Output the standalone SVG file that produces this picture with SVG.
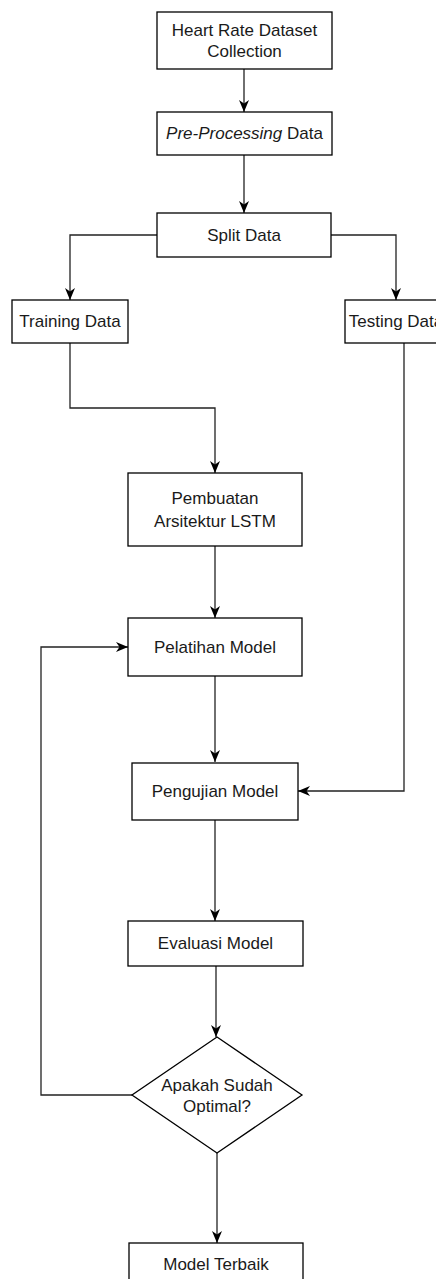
<svg xmlns="http://www.w3.org/2000/svg" width="436" height="1279" viewBox="0 0 436 1279">
<defs>
<marker id="arr" viewBox="0 0 12 10" refX="12" refY="5" markerWidth="12" markerHeight="10" markerUnits="userSpaceOnUse" orient="auto">
<path d="M0,0 L12,5 L0,10 L3.5,5 z" fill="#000"/>
</marker>
<style>
.box{fill:#fff;stroke:#000;stroke-width:1.3}
.t{font-family:"Liberation Sans",Arial,sans-serif;font-size:17px;fill:#1a1a1a;text-anchor:middle}
.c{fill:none;stroke:#222;stroke-width:1.3;marker-end:url(#arr)}
</style>
</defs>
<rect width="436" height="1279" fill="#fff"/>
<g id="connectors">
<path class="c" d="M244,69 V112"/>
<path class="c" d="M244,155 V213"/>
<path class="c" d="M157,235 H70 V300"/>
<path class="c" d="M331,235 H396 V300"/>
<path class="c" d="M70,343 V408 H215 V473"/>
<path class="c" d="M215,546 V618"/>
<path class="c" d="M215,676 V762"/>
<path class="c" d="M404,343 V791 H298"/>
<path class="c" d="M215,820 V921"/>
<path class="c" d="M216,966 V1037"/>
<path class="c" d="M217,1153 V1243"/>
<path class="c" d="M132,1095 H41 V647 H128"/>
</g>
<g id="n1"><rect class="box" x="157" y="12" width="175" height="57"/><text class="t" x="244.5" y="36">Heart Rate Dataset</text><text class="t" x="244.5" y="57">Collection</text></g>
<g id="n2"><rect class="box" x="157" y="112" width="175" height="43"/><text class="t" x="244.5" y="139"><tspan font-style="italic">Pre-Processing</tspan> Data</text></g>
<g id="n3"><rect class="box" x="157" y="213" width="174" height="44"/><text class="t" x="244" y="241">Split Data</text></g>
<g id="n4"><rect class="box" x="12" y="300" width="116" height="43"/><text class="t" x="70" y="327">Training Data</text></g>
<g id="n5"><rect class="box" x="345" y="300" width="102" height="43"/><text class="t" x="396" y="327">Testing Data</text></g>
<g id="n6"><rect class="box" x="128" y="473" width="174" height="73"/><text class="t" x="215" y="504">Pembuatan</text><text class="t" x="215" y="527">Arsitektur LSTM</text></g>
<g id="n7"><rect class="box" x="128" y="618" width="174" height="58"/><text class="t" x="215" y="653">Pelatihan Model</text></g>
<g id="n8"><rect class="box" x="132" y="763" width="166" height="57"/><text class="t" x="215" y="797">Pengujian Model</text></g>
<g id="n9"><rect class="box" x="128" y="921" width="175" height="45"/><text class="t" x="215.5" y="949">Evaluasi Model</text></g>
<g id="n10"><polygon class="box" points="217,1037 302,1095 217,1153 132,1095"/><text class="t" x="217" y="1091">Apakah Sudah</text><text class="t" x="217" y="1112">Optimal?</text></g>
<g id="n11"><rect class="box" x="129" y="1243" width="174" height="44"/><text class="t" x="216" y="1270">Model Terbaik</text></g>
</svg>
